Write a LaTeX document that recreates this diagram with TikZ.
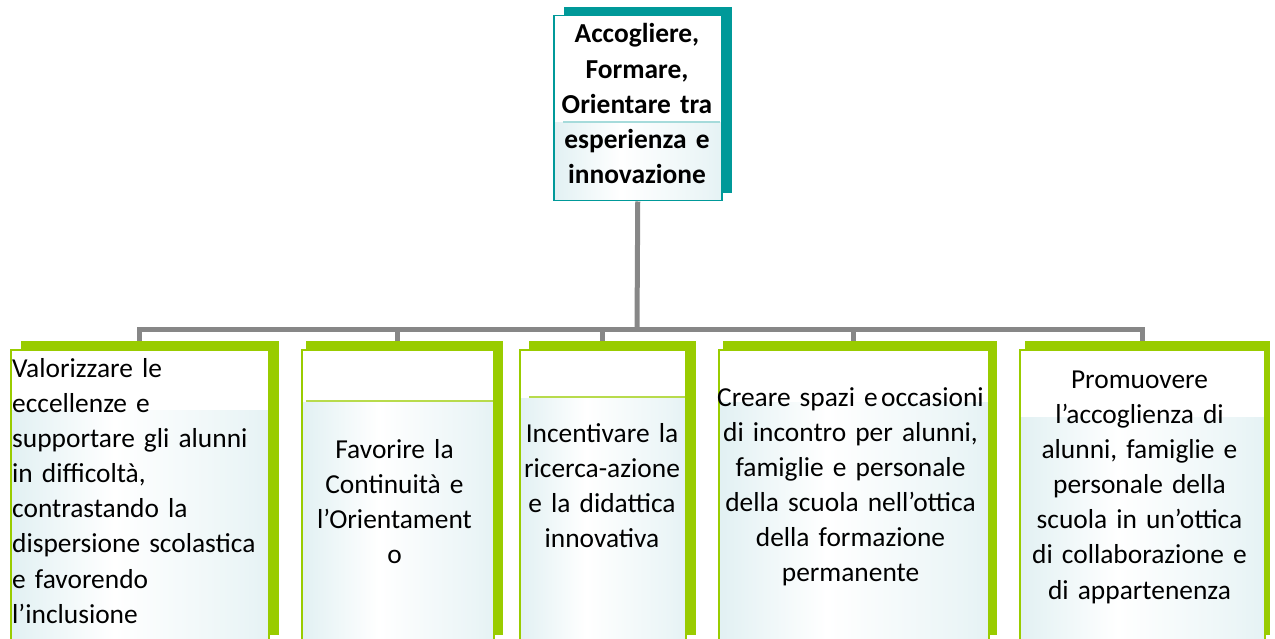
\documentclass[tikz,border=0pt]{standalone}
\usepackage{fontspec}
\setmainfont{Carlito}
\usetikzlibrary{backgrounds,calc}
\definecolor{teal1}{HTML}{009999}
\definecolor{green1}{HTML}{99CC00}
\definecolor{line1}{HTML}{878787}
\definecolor{pale}{HTML}{BCDEE3}
\pgfdeclarehorizontalshading{boxshade}{100bp}{color(0bp)=(pale!80); color(20bp)=(pale!55); color(45bp)=(white); color(70bp)=(white!70!pale); color(100bp)=(pale!85)}
\tikzset{
  conn/.style={line1, line width=5pt, line join=miter},
  bandshade/.style={path picture={
      \shade[shading=boxshade]
        ([yshift=-#1]path picture bounding box.north west) rectangle (path picture bounding box.south east);}},
  gbox/.style={draw=green1, line width=1.5pt, fill=white, rectangle, inner sep=0pt, anchor=north west},
  tbox/.style={draw=teal1, line width=1.5pt, fill=white, rectangle, inner sep=0pt, anchor=north west},
  gshadow/.style={fill=green1},
  tshadow/.style={fill=teal1},
  txt/.style={inner sep=0pt, font=\fontsize{27.4}{35.2}\selectfont, text=black},
  ctxt/.style={txt, anchor=base, align=center, text width=#1},
  ltxt/.style={txt, anchor=base west, align=left, text width=#1},
}
\begin{document}
\begin{tikzpicture}[x=1pt,y=-1pt]
\useasboundingbox (0,0) rectangle (1275,639);
\clip (0,0) rectangle (1275,639);

% shadows
\fill[tshadow] (564,7) rectangle (732,193);
\fill[gshadow] (21,341) rectangle (279,635);
\fill[gshadow] (306,341) rectangle (503,635);
\fill[gshadow] (529,341) rectangle (696,635);
\fill[gshadow] (723,341) rectangle (997,635);
\fill[gshadow] (1025,341) rectangle (1270,635);

% boxes
\node[tbox, minimum width=168pt, minimum height=185pt, bandshade=107pt] (top) at (553,15) {};
\node[gbox, minimum width=258pt, minimum height=300pt, bandshade=61pt] (b1) at (10,349) {};
\node[gbox, minimum width=192pt, minimum height=300pt, bandshade=53pt] (b2) at (301,349) {};
\node[gbox, minimum width=166pt, minimum height=300pt, bandshade=49pt] (b3) at (519,349) {};
\node[gbox, minimum width=270pt, minimum height=300pt, bandshade=53pt] (b4) at (718,349) {};
\node[gbox, minimum width=245pt, minimum height=300pt, bandshade=68pt] (b5) at (1019,349) {};

% faint band lines
\draw[teal1!35, line width=1.5pt] (563,122) -- (720,122);
\draw[green1!70, line width=1.5pt] (306,401) -- (493,401);
\draw[green1!70, line width=1.5pt] (529,397) -- (685,397);

% connectors
\coordinate (bus) at (637,329);
\begin{scope}[on background layer]
  \draw[conn] (top.south) -- (bus);
  \draw[conn] (b1.north) |- (bus) -| (b5.north);
  \draw[conn] (b2.north) -- (b2.north |- bus);
  \draw[conn] (b3.north) -- (b3.north |- bus);
  \draw[conn] (b4.north) -- (b4.north |- bus);
\end{scope}

% texts
\node[ctxt=200pt, font=\fontsize{27.4}{35.2}\selectfont\bfseries] (ttop) at (637,43)
  {Accogliere,\\Formare,\\Orientare tra\\esperienza e\\innovazione};
\node[ltxt=300pt] (t1) at (12,377)
  {Valorizzare le\\eccellenze e\\supportare gli alunni\\in difficoltà,\\contrastando la\\dispersione scolastica\\e favorendo\\l’inclusione};
\node[ctxt=230pt] (t2) at (394.5,458)
  {Favorire la\\Continuità e\\l’Orientament\\o};
\node[ctxt=220pt] (t3) at (602,442)
  {Incentivare la\\ricerca-azione\\e la didattica\\innovativa};
\node[ctxt=320pt] (t4) at (850.5,406)
  {Creare spazi e\hspace{0.12em}occasioni\\di incontro per alunni,\\famiglie e personale\\della scuola nell’ottica\\della formazione\\permanente};
\node[ctxt=300pt] (t5) at (1139.5,388)
  {Promuovere\\l’accoglienza di\\alunni, famiglie e\\personale della\\scuola in un’ottica\\di collaborazione e\\di appartenenza};
\end{tikzpicture}
\end{document}
